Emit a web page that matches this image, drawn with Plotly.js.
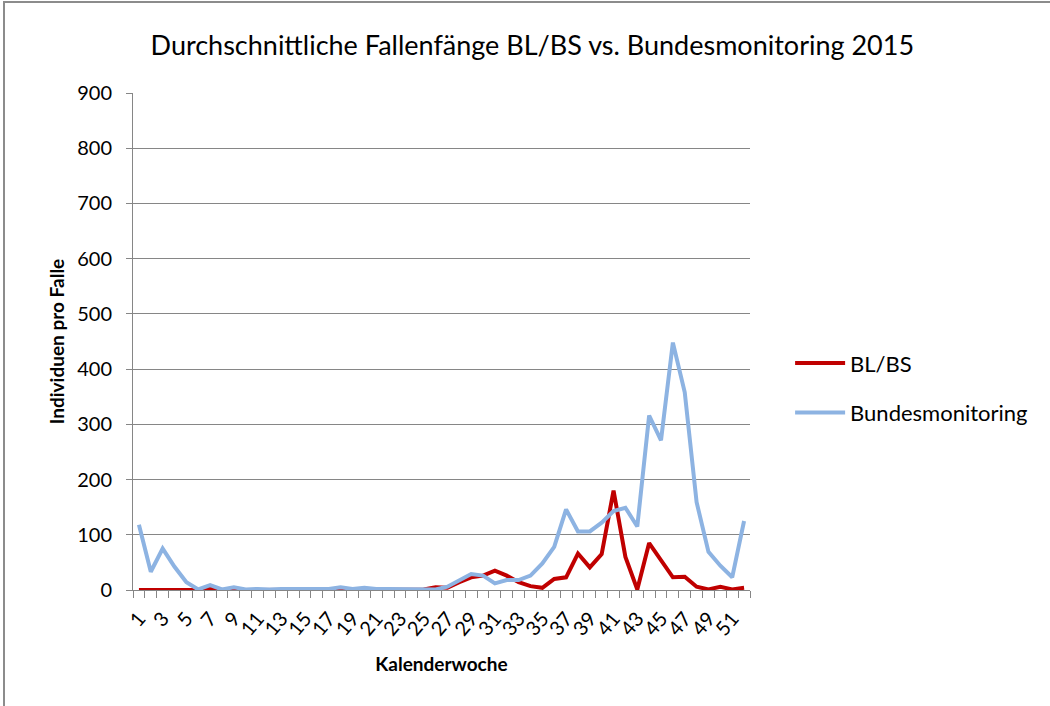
<!DOCTYPE html>
<html>
<head>
<meta charset="utf-8">
<script src="https://cdn.plot.ly/plotly-3.0.1.min.js"></script>
<style>
html,body{margin:0;padding:0;overflow:hidden;background:#fff;}
#chart{position:absolute;left:0;top:0;width:1050px;height:706px;}
#frame{position:absolute;left:3px;top:1px;width:1100px;height:800px;border:2px solid #8c8c8c;pointer-events:none;box-sizing:border-box;}
</style>
</head>
<body>
<div id="chart"></div>
<div id="frame"></div>
<script>
const weeks = [];
for (let i = 1; i <= 52; i++) weeks.push(i);

const blbs = [0,0,0,0,0,0,3,0,0,0,0,0,0,0,0,0,0,1,0,1,0,0,0,0,1,5,
  4,14,23,26,35,26,14,7,4,20,23,66,41,65,180,60,1,85,54,23,24,6,1,6,1,4];

const bundes = [118,33,75,42,14,1,9,1,5,1,2,1,2,2,2,2,2,5,2,4,2,2,2,2,1,1,
  6,17,29,26,12,18,18,26,48,78,146,106,106,122,143,149,115,316,271,448,358,159,69,44,23,125];

const tickLabels = [];
const tickVals = [];
for (let i = 1; i <= 52; i += 2) { tickVals.push(i); tickLabels.push(String(i)); }

const font = "Lato, 'Open Sans', sans-serif";

const traces = [
  {x: weeks, y: blbs, type: 'scatter', mode: 'lines', name: 'BL/BS', legendgroup: 'a',
   line: {color: '#c00000', width: 4}},
  {x: weeks, y: bundes, type: 'scatter', mode: 'lines', name: 'Bundesmonitoring', legendgroup: 'b',
   line: {color: '#8db3e2', width: 4}}
];

const layout = {
  width: 1050, height: 706,
  paper_bgcolor: '#fff', plot_bgcolor: '#fff',
  margin: {l: 133, r: 300, t: 93, b: 116},
  title: {text: 'Durchschnittliche Fallenfänge BL/BS vs. Bundesmonitoring 2015',
    font: {family: font, size: 27, color: '#000'}, x: 0.507, xref: 'container', xanchor: 'center', y: 0.935, yanchor: 'middle'},
  xaxis: {
    range: [0.5, 52.5], tickmode: 'array', tickvals: tickVals, ticktext: tickLabels,
    tickangle: -50, ticks: '', showgrid: false, zeroline: false,
    showline: true, linecolor: '#868686', linewidth: 1,
    ticklabelstandoff: 8,
    tickfont: {family: font, size: 20, color: '#000'},
    minor: {tickmode: 'linear', tick0: 0.5, dtick: 1, ticks: 'outside', ticklen: 7, tickcolor: '#868686', showgrid: false},
    title: {text: 'Kalenderwoche', font: {family: font, size: 19, color: '#000', weight: 'bold'}, standoff: 18}
  },
  yaxis: {
    range: [0, 900], dtick: 100, tick0: 0,
    showgrid: true, gridcolor: '#868686', gridwidth: 1, zeroline: false,
    showline: true, linecolor: '#868686', linewidth: 1,
    ticks: 'outside', ticklen: 6, tickcolor: '#868686',
    ticklabelstandoff: 10,
    tickfont: {family: font, size: 20, color: '#000'},
    title: {text: 'Individuen pro Falle', font: {family: font, size: 19, color: '#000', weight: 'bold'}, standoff: 7}
  },
  legend: {
    x: 1.065, xanchor: 'left', y: 0.406, yanchor: 'middle',
    font: {family: font, size: 22, color: '#000'},
    itemwidth: 50,
    tracegroupgap: 18, bgcolor: 'rgba(0,0,0,0)'
  },
  showlegend: true
};

Plotly.newPlot('chart', traces, layout, {displayModeBar: false, staticPlot: true});
</script>
</body>
</html>
